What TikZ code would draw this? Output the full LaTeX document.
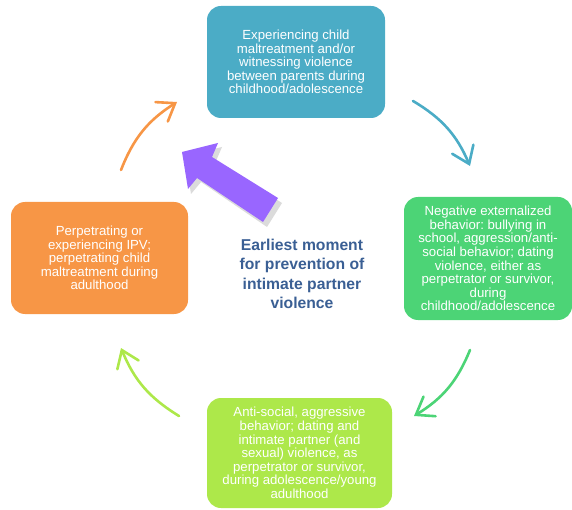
\documentclass[tikz,border=0pt]{standalone}
\usepackage{fontspec}
\setmainfont{Liberation Sans}
\frenchspacing
\usetikzlibrary{arrows.meta, positioning, calc}
\definecolor{cteal}{HTML}{4BACC6}
\definecolor{cgreen}{HTML}{4CD476}
\definecolor{clime}{HTML}{ADE84A}
\definecolor{corange}{HTML}{F79646}
\definecolor{cpurple}{HTML}{9966FF}
\definecolor{ctext}{HTML}{3A5F94}

\begin{document}
\begin{tikzpicture}[x=1pt, y=-1pt,
    every node/.style={font=\fontsize{13.2}{13.6}\selectfont},
    stage/.style={rounded corners=14pt, text=white, align=center, inner sep=0pt},
    flow/.style={line width=2.6pt, line cap=round,
        -{Straight Barb[length=16pt, width=23pt, line cap=round]}},
    core/.style={font=\fontsize{15.7}{19.5}\selectfont\bfseries, text=ctext, align=center},
]

\useasboundingbox (0,0) rectangle (572,510);

% the four stages of the cycle
\node[stage, fill=cteal, minimum width=178pt, minimum height=112pt] (child) at (296,62)
    {Experiencing child\\maltreatment and/or\\witnessing violence\\between parents during\\childhood/adolescence};
\node[stage, fill=cgreen, minimum width=168pt, minimum height=123pt] (youth) at (488,258.5)
    {Negative externalized\\behavior: bullying in\\school, aggression/anti-\\social behavior; dating\\violence, either as\\perpetrator or survivor,\\during\\childhood/adolescence};
\node[stage, fill=clime, minimum width=185pt, minimum height=110pt] (young) at (299.5,453)
    {Anti-social, aggressive\\behavior; dating and\\intimate partner (and\\sexual) violence, as\\perpetrator or survivor,\\during adolescence/young\\adulthood};
\node[stage, fill=corange, minimum width=177pt, minimum height=112pt] (adult) at (99.5,258)
    {Perpetrating or\\experiencing IPV;\\perpetrating child\\maltreatment during\\adulthood};

% the message in the middle
\node[core] (early) at (302,274)
    {Earliest moment\\for prevention of\\intimate partner\\violence};

% ends of the curved arrows
\coordinate (a1) at (413,101);
\coordinate (b1) at (470,166);
\coordinate (a2) at (470,350);
\coordinate (b2) at (414,416);
\coordinate (a3) at (179,416);
\coordinate (b3) at (121,348);
\coordinate (a4) at (121,170);
\coordinate (b4) at (177,102);

\draw[flow, cteal] (a1) to[bend left=18] (b1);
\draw[flow, cgreen] (a2) to[bend left=18] (b2);
\draw[flow, clime] (a3) to[bend left=18] (b3);
\draw[flow, corange] (a4) to[bend left=18] (b4);

% the big arrow pointing at the first stage
\fill[black, opacity=0.14]
    (185,156) -- (222,147) -- (216,161) -- (282,203) -- (267,227)
    -- (201,182) -- (191,194) -- cycle;
\fill[cpurple]
    (182,152) -- (218,143) -- (212,157) -- (278,198) -- (263,222)
    -- (197,178) -- (188,189) -- cycle;

\end{tikzpicture}
\end{document}
